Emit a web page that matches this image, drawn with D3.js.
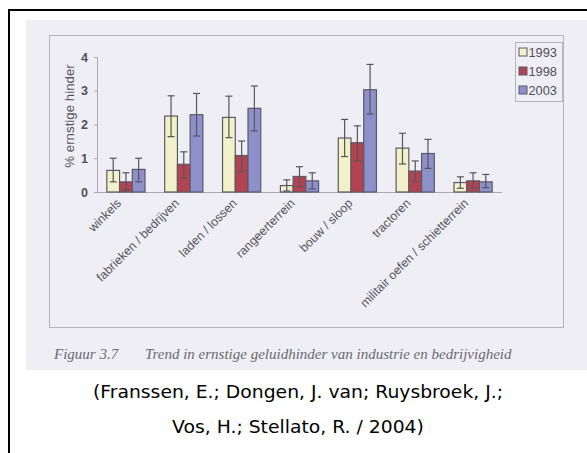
<!DOCTYPE html>
<html><head><meta charset="utf-8">
<script src="https://cdn.jsdelivr.net/npm/d3@7"></script>
<style>body{margin:0;background:#fff;}svg{display:block;}</style>
</head><body>
<script>
const categories = ["winkels","fabrieken / bedrijven","laden / lossen","rangeerterrein","bouw / sloop","tractoren","militair oefen / schietterrein"];
const years = ["1993","1998","2003"];
const v1993 = [0.64, 2.25, 2.21, 0.19, 1.60, 1.30, 0.28];
const v1998 = [0.30, 0.82, 1.08, 0.46, 1.46, 0.62, 0.33];
const v2003 = [0.67, 2.29, 2.48, 0.33, 3.03, 1.14, 0.30];
const lo1993 = [0.30, 1.64, 1.61, 0.03, 1.05, 0.83, 0.11];
const hi1993 = [1.00, 2.85, 2.84, 0.36, 2.15, 1.74, 0.45];
const lo1998 = [0.06, 0.42, 0.60, 0.16, 0.93, 0.31, 0.11];
const hi1998 = [0.57, 1.19, 1.51, 0.75, 1.96, 0.92, 0.57];
const lo2003 = [0.30, 1.66, 1.81, 0.09, 2.31, 0.70, 0.13];
const hi2003 = [1.00, 2.92, 3.14, 0.57, 3.78, 1.56, 0.52];
const yTicks = [0,1,2,3,4];
const colors = ["#f3f1c9","#b34350","#8d90cb"];

const vals = [v1993, v1998, v2003], los = [lo1993, lo1998, lo2003], his = [hi1993, hi1998, hi2003];

const W = 587, H = 453;
const svg = d3.select("body").append("svg").attr("width", W).attr("height", H);

// scanned page background
svg.append("rect").attr("x",26).attr("y",20).attr("width",W-26).attr("height",350).attr("fill","#eeeef4");
// outer border
svg.append("path").attr("d",`M9,${H} V10 H${W}`).attr("fill","none").attr("stroke","#000").attr("stroke-width",2);

// plot frame
svg.append("rect").attr("x",49.5).attr("y",35.5).attr("width",514).attr("height",292).attr("fill","none").attr("stroke","#b4b4bc").attr("stroke-width",1);

const x0 = d3.scaleBand().domain(categories).range([97, 502]).paddingInner(0.34).paddingOuter(0.17);
const x1 = d3.scaleBand().domain(years).range([0, x0.bandwidth()]);
const y = d3.scaleLinear().domain([0,4]).range([192, 57]);

// y axis
const ya = svg.append("g").attr("transform","translate(97,0)").call(d3.axisLeft(y).tickValues(yTicks).tickSize(3).tickPadding(6).tickFormat(d3.format("d")));
ya.select(".domain").attr("stroke","#aaaab2");
ya.selectAll(".tick line").attr("stroke","#aaaab2");
ya.selectAll("text").attr("font-family","Liberation Sans, Arial, sans-serif").attr("font-size",12.5).attr("font-weight","bold").attr("fill","#505058");

// x axis line
svg.append("line").attr("x1",97).attr("x2",502).attr("y1",192.5).attr("y2",192.5).attr("stroke","#aaaab2");

// bars
categories.forEach((c,i)=>{
  const g = svg.append("g").attr("transform",`translate(${x0(c)},0)`);
  years.forEach((yr,k)=>{
    g.append("rect").attr("x",x1(yr)).attr("y",y(vals[k][i])).attr("width",x1.bandwidth()).attr("height",y(0)-y(vals[k][i]))
      .attr("fill",colors[k]).attr("stroke","#5a5a66").attr("stroke-width",1.2);
  });
  years.forEach((yr,k)=>{
    const cx = x1(yr)+x1.bandwidth()/2;
    const e = g.append("g").attr("stroke","#55555c").attr("stroke-width",1.2);
    e.append("line").attr("x1",cx).attr("x2",cx).attr("y1",y(his[k][i])).attr("y2",y(los[k][i]));
    e.append("line").attr("x1",cx-3.5).attr("x2",cx+3.5).attr("y1",y(his[k][i])).attr("y2",y(his[k][i]));
    e.append("line").attr("x1",cx-3.5).attr("x2",cx+3.5).attr("y1",y(los[k][i])).attr("y2",y(los[k][i]));
  });
});

// category labels rotated
categories.forEach(c=>{
  const cx = x0(c)+x0.bandwidth()/2 - 4;
  svg.append("text").attr("transform",`translate(${cx},204) rotate(-45)`).attr("text-anchor","end")
    .attr("font-family","Liberation Sans, Arial, sans-serif").attr("font-size",12.3).attr("fill","#56565e").text(c);
});

// y label
svg.append("text").attr("transform","translate(74,116) rotate(-90)").attr("text-anchor","middle")
  .attr("font-family","Liberation Sans, Arial, sans-serif").attr("font-size",13.3).attr("fill","#56565e").text("% ernstige hinder");

// legend
const lg = svg.append("g");
lg.append("rect").attr("x",515.5).attr("y",42.5).attr("width",47).attr("height",59).attr("fill","none").attr("stroke","#b4b4bc");
years.forEach((yr,k)=>{
  const yy = 52 + k*19;
  lg.append("rect").attr("x",519).attr("y",yy-4).attr("width",8).attr("height",8).attr("fill",colors[k]).attr("stroke","#5a5a66");
  lg.append("text").attr("x",528.5).attr("y",yy+4.5).attr("font-family","Liberation Sans, Arial, sans-serif").attr("font-size",12.8).attr("fill","#505058").text(yr);
});

// figure caption
const cap = svg.append("g").attr("font-family","Liberation Serif, Times New Roman, serif").attr("font-style","italic").attr("font-size",15).attr("fill","#6a6a72");
cap.append("text").attr("x",54).attr("y",359).text("Figuur 3.7");
cap.append("text").attr("x",145).attr("y",359).text("Trend in ernstige geluidhinder van industrie en bedrijvigheid");

// citation
const cit = svg.append("g").attr("font-family","DejaVu Sans, Verdana, sans-serif").attr("font-size",17.5).attr("fill","#000").attr("text-anchor","middle");
const c1 = cit.append("text").attr("x",298).attr("y",398).text("(Franssen, E.; Dongen, J. van; Ruysbroek, J.;");
const c2 = cit.append("text").attr("x",298).attr("y",433).text("Vos, H.; Stellato, R. / 2004)");
const ratio = 410 / c1.node().getComputedTextLength();
c1.attr("textLength",410).attr("lengthAdjust","spacingAndGlyphs");
c2.attr("textLength",c2.node().getComputedTextLength()*ratio).attr("lengthAdjust","spacingAndGlyphs");
</script>
</body></html>
